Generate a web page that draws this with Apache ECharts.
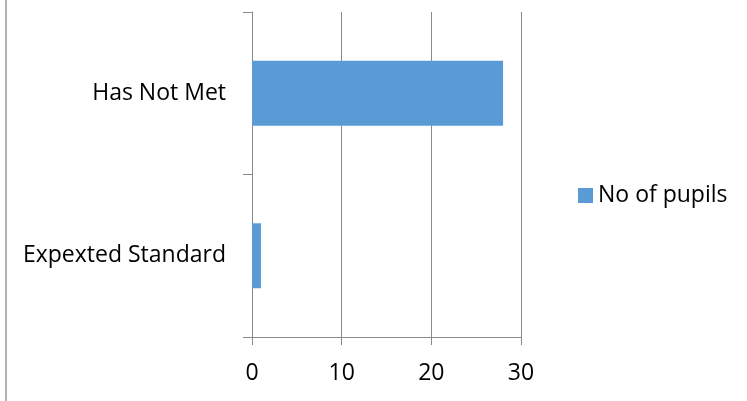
<!DOCTYPE html>
<html>
<head>
<meta charset="utf-8">
<script src="https://cdn.jsdelivr.net/npm/echarts@6/dist/echarts.min.js"></script>
<style>
  html, body { margin: 0; padding: 0; background: #fff; }
  #chart { width: 747px; height: 401px; }
</style>
</head>
<body>
<div id="chart"></div>
<script>
// Pupils by attainment outcome
const categories = ['Expexted Standard', 'Has Not Met'];
const pupils = [1, 28];
const seriesName = 'No of pupils';
const xTicks = { min: 0, max: 30, interval: 10 };

const axisGrey = '#8a8a8a';
const labelFont = { fontFamily: 'Open Sans', fontSize: 23, color: '#000' };

const chart = echarts.init(document.getElementById('chart'), null, { renderer: 'canvas' });
chart.setOption({
  animation: false,
  backgroundColor: '#fff',
  grid: { left: 252, right: 226, top: 12, bottom: 64, containLabel: false },
  legend: {
    data: [seriesName],
    left: 578,
    top: 184,
    padding: 0,
    icon: 'rect',
    itemWidth: 15,
    itemHeight: 15,
    itemGap: 6,
    textStyle: Object.assign({}, labelFont, { padding: [0, 0, 0, 0] })
  },
  xAxis: {
    type: 'value',
    min: xTicks.min,
    max: xTicks.max,
    interval: xTicks.interval,
    axisLine: { show: true, lineStyle: { color: axisGrey, width: 1 } },
    axisTick: { show: true, length: 8, lineStyle: { color: axisGrey } },
    splitLine: { show: true, lineStyle: { color: axisGrey, width: 1 } },
    axisLabel: Object.assign({ margin: 25 }, labelFont)
  },
  yAxis: {
    type: 'category',
    data: categories,
    axisLine: { show: true, lineStyle: { color: axisGrey, width: 1 } },
    axisTick: { show: true, length: 9, lineStyle: { color: axisGrey } },
    axisLabel: Object.assign({ margin: 26 }, labelFont)
  },
  series: [{
    name: seriesName,
    type: 'bar',
    data: pupils,
    barWidth: 65,
    itemStyle: { color: '#5b9bd5' }
  }],
  graphic: [{
    type: 'line',
    shape: { x1: 6, y1: 0, x2: 6, y2: 401 },
    style: { stroke: '#9a9a9a', lineWidth: 1.5 }
  }]
});
</script>
</body>
</html>
